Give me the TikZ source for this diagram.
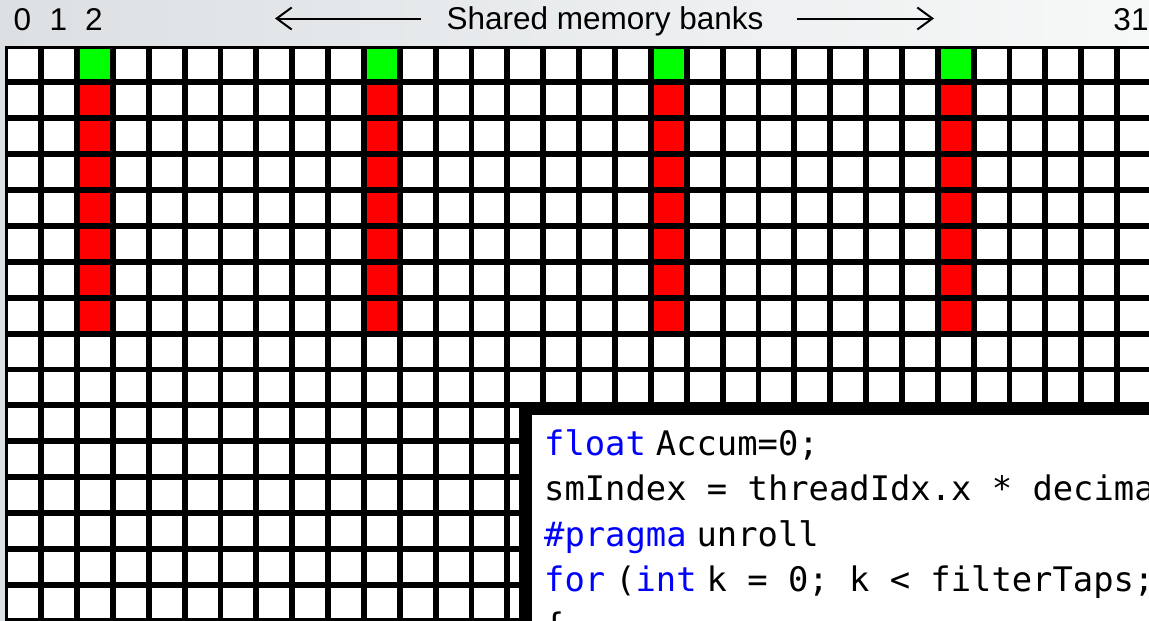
\documentclass[tikz,border=0pt]{standalone}
\usepackage{fontspec}
\setmainfont{Liberation Sans}
\newfontfamily\codefont{DejaVu Sans Mono}
\usetikzlibrary{arrows.meta}
\definecolor{bgL}{RGB}{220,224,227}
\definecolor{bgR}{RGB}{247,248,248}
\definecolor{cellgreen}{RGB}{0,255,0}
\definecolor{cellred}{RGB}{255,0,0}
\definecolor{kw}{RGB}{0,0,255}
\tikzset{
  hdr/.style={font=\fontsize{31.5}{36}\selectfont, inner sep=0pt, anchor=base},
  codeline/.style={font=\codefont\fontsize{33.8}{40}\selectfont, inner sep=0pt, anchor=base west},
  bankarrow/.style={line width=2pt, -{Straight Barb[length=15pt,width=22pt,line width=2pt]}},
}
\newcommand{\kwd}[1]{\textcolor{kw}{#1}}
\newcommand{\kgap}{\hspace{10pt}}
\begin{document}
\begin{tikzpicture}[x=1pt,y=-1pt]
\useasboundingbox (0,0) rectangle (1149,621);
\clip (0,0) rectangle (1149,621);
% background
\shade[left color=bgL, right color=bgR] (0,0) rectangle (1149,621);
% grid background (black lines)
\fill[black] (5,46.3) rectangle (1160,630);
% cells
\foreach \i in {0,...,31}{
  \foreach \j in {0,...,15}{
    \fill[white] ({8.3+35.86*\i},{49.3+35.9*\j}) rectangle ++(30,30);
  }
}
% highlighted banks
\foreach \i in {2,10,18,26}{
  \fill[cellgreen] ({8.3+35.86*\i},49.3) rectangle ++(30,30);
  \foreach \j in {1,...,7}{
    \fill[cellred] ({8.3+35.86*\i},{49.3+35.9*\j}) rectangle ++(30,30);
  }
}
% header labels
\node[hdr] (b0) at (22.5,30) {0};
\node[hdr] (b1) at (58.5,30) {1};
\node[hdr] (b2) at (94.0,30) {2};
\node[hdr] (b31) at (1131,30) {31};
\node[hdr] (lbl) at (605,29.5) {Shared memory banks};
\coordinate (la1) at (421,18.5);
\coordinate (la2) at (275,18.5);
\coordinate (ra1) at (797,18.5);
\coordinate (ra2) at (934,18.5);
\draw[bankarrow] (la1) -- (la2);
\draw[bankarrow] (ra1) -- (ra2);
% code box
\fill[black] (519,402.4) rectangle (1160,630);
\fill[white] (531.7,415) rectangle (1160,630);
\node[codeline] (c1) at (544,455) {\kwd{float}\kgap Accum=0;};
\node[codeline] (c2) at (544,500.5) {smIndex = threadIdx.x * decima};
\node[codeline] (c3) at (544,546) {\kwd{\#pragma}\kgap unroll};
\node[codeline] (c4) at (544,591.7) {\kwd{for}\kgap(\kwd{int}\kgap k = 0; k < filterTaps;};
\node[codeline] (c5) at (544,637) {\{};
\end{tikzpicture}
\end{document}
